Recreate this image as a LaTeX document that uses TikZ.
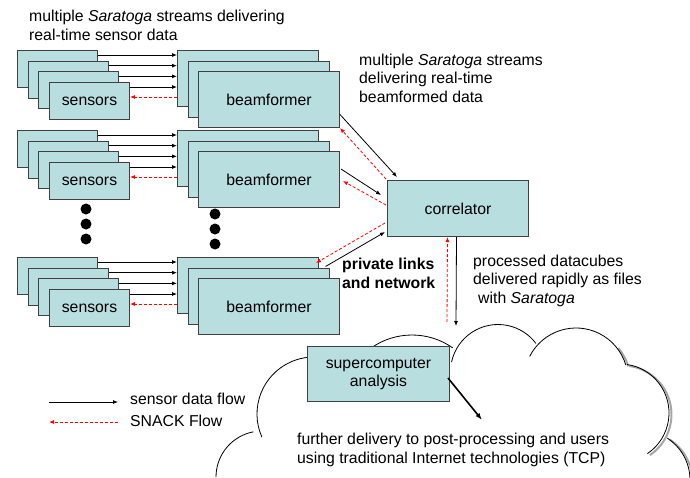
\documentclass[tikz,border=0pt]{standalone}
\usepackage{fontspec}
\setmainfont{Liberation Sans}
\usetikzlibrary{arrows.meta,calc}
\definecolor{boxfill}{RGB}{184,222,224}
\definecolor{boxline}{RGB}{64,64,64}
\tikzset{
  unit/.style={draw=boxline, fill=boxfill, line width=1pt, anchor=north west,
    inner sep=0pt, align=center, font=\fontsize{15.8}{18}\selectfont},
  sensorbox/.style={unit, minimum width=80pt, minimum height=37pt},
  beambox/.style={unit, minimum width=141pt, minimum height=56pt},
  flow/.style={-{Latex[length=5pt,width=4pt]}, line width=0.8pt},
  snack/.style={-{Latex[length=5pt,width=4pt]}, red, line width=0.8pt,
    dash pattern=on 3pt off 2pt},
  label/.style={anchor=base west, align=left, inner sep=0pt,
    font=\fontsize{15.8}{18.5}\selectfont},
}
\begin{document}
\begin{tikzpicture}[x=1pt,y=-1pt]
\useasboundingbox (0,0) rectangle (690,477);
\clip (0,0) rectangle (690,477);
% cloud
\foreach \cx/\cy/\a/\b/\r in {576/380/40/17/52,620/413/82/-56/49,640/480/57/-10/50}
  \draw[gray!70, line width=2pt] ($(\cx+2.5,\cy+1.5)+(\a:\r pt)$) arc[start angle=\a, end angle=\b, radius=\r pt];
\foreach \cx/\cy/\a/\b/\r in {262/477/180/101/46,314/414/204/60/57,412/406/125/55/71,
    498/372/168/37/47.5,576/380/153/17/52,620/413/82/-56/49,640/480/57/-10/50}
  \draw[line width=0.8pt] ($(\cx,\cy)+(\a:\r pt)$) arc[start angle=\a, end angle=\b, radius=\r pt];
% sensor and beamformer groups
\foreach \g/\gy in {A/50,B/130,C/257}{
  \foreach \i in {1,2,3}
    \node[sensorbox] (s\g\i) at (17+10.67*\i-10.67,\gy+10.67*\i-10.67) {};
  \node[sensorbox] (s\g4) at (49,\gy+32) {sensors};
  \foreach \i in {1,2}
    \node[beambox] (b\g\i) at (177+10.5*\i-10.5,\gy+10.5*\i-10.5) {};
  \node[beambox] (b\g3) at (198,\gy+21) {beamformer};
  \foreach \i in {1,...,4}
    \draw[flow] ($(s\g\i.north east)+(0,5)$) -- ($(s\g\i.north east -| b\g1.west)+(0,5)$);
  \draw[snack] ($(s\g4.north east -| b\g1.west)+(0,15)$) -- ($(s\g4.north east)+(0,15)$);
}
\foreach \y in {209,224,239} \fill (86,\y) circle[radius=5.5pt];
\foreach \y in {214,229,244} \fill (215,\y) circle[radius=5.5pt];
% correlator and links
\node[beambox] (corr) at (387,180) {correlator};
\draw[flow] ($(bA3.east)+(0,15)$) -- ($(corr.north west)+(10,-3)$);
\draw[snack] ($(corr.north west)+(-1,-1)$) -- (bA3.south east);
\draw[flow] ($(bB3.north east)+(1,18)$) -- ($(corr.north west)+(-6,15)$);
\draw[snack] ($(corr.north west)+(-1,25)$) -- ($(bB3.north east)+(3,30)$);
\draw[flow] ($(bC2.north east)+(-4,-1)$) -- ($(corr.south west)+(-2,-5)$);
\draw[snack] ($(corr.south west)+(-2,-14)$) -- ($(bC1.north east)+(-3,6)$);
\node[label] (tbeam) at (359,102) {multiple \textit{Saratoga} streams\\delivering real-time\\beamformed data};
\node[label, font=\fontsize{15.8}{18.5}\selectfont\bfseries] (tpriv) at (342,288) {private links\\and network};
\node[label] (tproc) at (473,303) {processed datacubes\\delivered rapidly as files\\\hspace{5pt}with \textit{Saratoga}};
\coordinate (cloudtop) at (456,326);
\coordinate (cloudsnack) at (447,322);
\draw[flow] ($(corr.south)+(-1.5,0)$) -- (cloudtop);
\draw[snack] (cloudsnack) -- ($(corr.south)+(-10.5,0)$);
% analysis
\node[beambox, minimum width=142pt, minimum height=55pt] (super) at (307,346) {supercomputer\\analysis};
\coordinate (further) at (482,420);
\draw[-{Latex[length=7pt,width=5pt]}, line width=1.6pt] ($(super.east)+(-2,4)$) -- (further);
\node[label] (tfur) at (297,463) {further delivery to post-processing and users\\using traditional Internet technologies (TCP)};
\node[label] (ttop) at (29,40) {multiple \textit{Saratoga} streams delivering\\real-time sensor data};
% legend
\coordinate (lf1) at (49,402);
\coordinate (lf2) at (118,402);
\coordinate (ls1) at (49,422);
\coordinate (ls2) at (118,422);
\draw[flow] (lf1) -- (lf2);
\draw[snack] (ls2) -- (ls1);
\node[label] (lflow) at (130,404) {sensor data flow};
\node[label] (lsnack) at (130,426) {SNACK Flow};
\end{tikzpicture}
\end{document}
